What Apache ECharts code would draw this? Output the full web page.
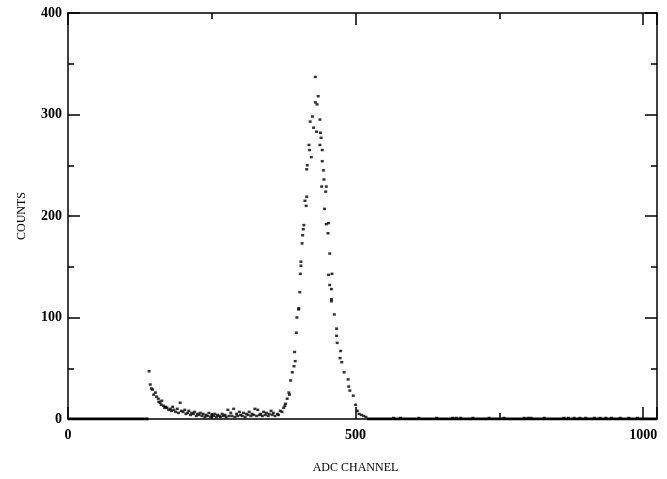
<!DOCTYPE html>
<html>
<head>
<meta charset="utf-8">
<script src="https://cdn.jsdelivr.net/npm/echarts@6/dist/echarts.min.js"></script>
<style>
html,body{margin:0;padding:0;background:#fff;}
#chart{width:667px;height:479px;}
</style>
</head>
<body>
<div id="chart"></div>
<script>
// ---- data ----
// channels where counts are zero over a long run (drawn as a thick line on y=0)
var zeroRuns = [[0, 140], [520, 1024]];

// low-energy tail / background region
var lowCh = [141,143,145,147,149,152,154,157,158,160,162,163,166,168,170,172,175,178,180,182,184,187,190,192,195,197,200,203,205,208,210,213,215,218,220,223,225,228,230,233,235,238,240,243,245,248,250,253,255,258,260,263,265,268,270,273,275,278,280,283,285,288,290,293,295,298,300,303,305,308,310,313,315,318,320,323,325,328,330,333,335,338,340,343,345,348,350,353,355,357];
var lowCounts = [47,34,30,29,24,26,22,20,17,16,14,18,13,11,12,11,9,10,8,12,9,7,10,6,16,8,7,9,5,6,8,4,6,5,7,3,5,4,6,3,5,2,4,3,6,2,4,3,5,2,4,3,2,5,3,4,2,9,3,6,3,10,2,5,3,7,4,3,6,2,5,4,7,3,5,4,10,3,9,4,5,3,7,4,6,3,5,8,4,6];

// main peak
var peakCh = [360,364,366,369,372,375,377,378,381,384,385,387,390,393,394,395,397,398,401,401,403,404,405,405,407,408,409,410,412,414,415,415,416,419,420,421,423,425,427,430,430,432,433,435,438,438,439,440,441,442,442,444,445,446,448,449,449,452,453,453,455,455,458,458,458,459,463,467,467,468,473,474,476,480,487,488,490,496,500,503,506,510,514,518];
var peakCounts = [3,5,4,8,7,11,13,15,20,26,24,38,46,52,66,57,85,100,108,109,125,143,151,155,173,181,187,191,215,210,219,246,250,270,265,293,258,298,287,337,312,283,310,318,295,270,282,277,229,265,254,245,236,207,224,229,192,183,193,142,163,132,128,118,116,143,103,89,82,75,60,67,56,46,39,32,28,23,14,8,5,4,3,2];

// sparse single counts in the high-channel region
var tailCh = [566,578,610,641,669,675,683,704,732,758,793,800,805,828,862,870,880,890,900,915,925,935,945,960,975,990];
var tailCounts = [1,1,1,1,1,1,1,1,1,1,1,1,1,1,1,1,1,1,1,1,1,1,1,1,1,1];

var xTicks = [0, 500, 1000];
var yTicks = [0, 100, 200, 300, 400];

// ---- build ----
function pairs(xs, ys) { return xs.map(function (x, i) { return [x, ys[i]]; }); }
var points = pairs(lowCh, lowCounts).concat(pairs(peakCh, peakCounts)).concat(pairs(tailCh, tailCounts));

var serif = "'Liberation Serif','DejaVu Serif',serif";
var lineStyle = { color: '#000', width: 1.5 };

function xAxisDef(pos, labels) {
  return {
    type: 'value', position: pos, min: 0, max: 1024, interval: xTicks[1] - xTicks[0],
    axisLine: { show: true, onZero: false, lineStyle: lineStyle },
    axisTick: { show: true, inside: true, length: 12, lineStyle: lineStyle },
    minorTick: { show: true, splitNumber: 2, length: 6, lineStyle: lineStyle },
    splitLine: { show: false },
    axisLabel: labels ? {
      show: true, showMaxLabel: false, margin: 9, color: '#000', fontFamily: serif, fontSize: 14, fontWeight: 'bold',
      formatter: function (v) { return xTicks.indexOf(v) >= 0 ? String(v) : ''; }
    } : { show: false },
    name: labels ? 'ADC CHANNEL' : '', nameLocation: 'middle', nameGap: 43,
    nameTextStyle: { color: '#000', fontFamily: serif, fontSize: 12, padding: [0, 14, 0, 0] }
  };
}
function yAxisDef(pos, labels) {
  return {
    type: 'value', position: pos, min: yTicks[0], max: yTicks[yTicks.length - 1], interval: yTicks[1] - yTicks[0],
    axisLine: { show: true, onZero: false, lineStyle: lineStyle },
    axisTick: { show: true, inside: true, length: 12, lineStyle: lineStyle },
    minorTick: { show: true, splitNumber: 2, length: 6, lineStyle: lineStyle },
    splitLine: { show: false },
    axisLabel: labels ? { show: true, margin: 6, color: '#000', fontFamily: serif, fontSize: 14, fontWeight: 'bold' } : { show: false },
    name: labels ? 'COUNTS' : '', nameLocation: 'middle', nameGap: 40,
    nameTextStyle: { color: '#000', fontFamily: serif, fontSize: 12 }
  };
}

var series = zeroRuns.map(function (r) {
  return {
    type: 'line', xAxisIndex: 0, yAxisIndex: 0, data: [[r[0], 0], [r[1], 0]],
    showSymbol: false, symbol: 'none', lineStyle: { color: '#000', width: 3 }, silent: true, animation: false
  };
});
series.push({
  type: 'scatter', xAxisIndex: 0, yAxisIndex: 0, data: points,
  symbol: 'rect', symbolSize: [3, 2.5], itemStyle: { color: '#000' }, animation: false
});

var chart = echarts.init(document.getElementById('chart'), null, { renderer: 'canvas' });
chart.setOption({
  backgroundColor: '#fff',
  animation: false,
  grid: { left: 68, right: 10, top: 13, bottom: 59 },
  xAxis: [xAxisDef('bottom', true), xAxisDef('top', false)],
  yAxis: [yAxisDef('left', true), yAxisDef('right', false)],
  series: series
});
</script>
</body>
</html>
